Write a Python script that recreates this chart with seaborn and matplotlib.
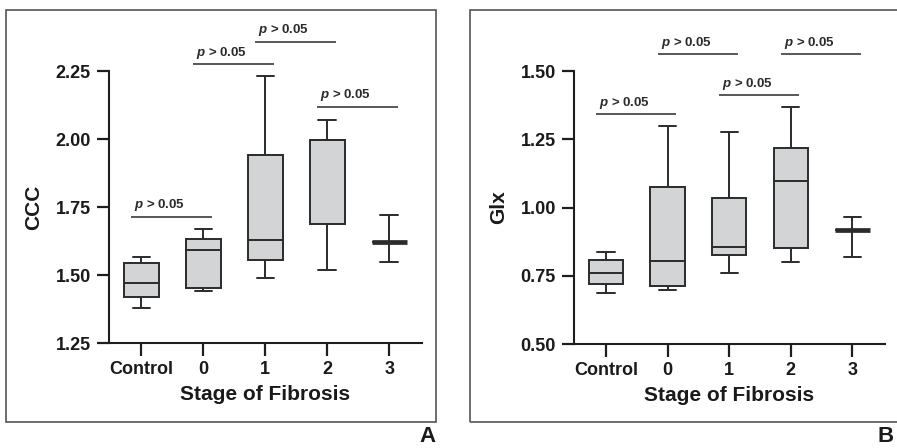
import numpy as np
import pandas as pd
import matplotlib
matplotlib.use("Agg")
import matplotlib.pyplot as plt
import seaborn as sns
from matplotlib.patches import Rectangle

# ---------------- data ----------------
stages = ["Control", "0", "1", "2", "3"]

ccc_low = [1.380, 1.440, 1.490, 1.518, 1.549]
ccc_q1 = [1.418, 1.451, 1.555, 1.686, 1.620]
ccc_median = [1.469, 1.591, 1.627, 1.998, 1.620]
ccc_q3 = [1.545, 1.634, 1.942, 1.998, 1.620]
ccc_high = [1.568, 1.670, 2.230, 2.069, 1.719]

glx_low = [0.688, 0.699, 0.760, 0.800, 0.820]
glx_q1 = [0.719, 0.712, 0.825, 0.853, 0.918]
glx_median = [0.759, 0.803, 0.854, 1.097, 0.918]
glx_q3 = [0.806, 1.074, 1.036, 1.219, 0.918]
glx_high = [0.838, 1.299, 1.278, 1.368, 0.966]

ccc_yticks = [1.25, 1.50, 1.75, 2.00, 2.25]
glx_yticks = [0.50, 0.75, 1.00, 1.25, 1.50]

p_text = r"$p$ > 0.05"
pairs = [("Control", "0"), ("0", "1"), ("1", "2"), ("2", "3")]
ccc_p_levels = [1.714, 2.274, 2.357, 2.118]
glx_p_levels = [1.342, 1.561, 1.412, 1.561]

# ---------------- style ----------------
sns.set_theme(style="ticks")
plt.rcParams["font.family"] = ["Liberation Sans", "DejaVu Sans"]
plt.rcParams["font.weight"] = "bold"
plt.rcParams["axes.labelweight"] = "bold"
plt.rcParams["mathtext.fontset"] = "custom"
plt.rcParams["mathtext.it"] = "Liberation Sans:italic:bold"
plt.rcParams["mathtext.rm"] = "Liberation Sans:bold"

FILL = "#d3d4d6"
LINE = "#2b2b2b"
AXC = "#1e1e1e"

fig = plt.figure(figsize=(8.97, 4.48), dpi=100)
W, H = 897.0, 448.0

ax_left = fig.add_axes([109 / W, 1 - 343 / H, 313 / W, 272 / H])
ax_right = fig.add_axes([574 / W, 1 - 344 / H, 311 / W, 273 / H])


def panel(ax, low, q1, med, q3, high, yticks, ylabel, levels):
    values = np.column_stack([low, q1, med, q3, high]).ravel()
    df = pd.DataFrame({"stage": np.repeat(stages, 5), "value": values})
    sns.boxplot(data=df, x="stage", y="value", order=stages, ax=ax,
                color=FILL, saturation=1, linecolor=LINE, linewidth=1.4,
                width=0.56, whis=(0, 100), showfliers=False)
    cont = ax.containers[-1]
    try:
        cont.medians[-1].set_linewidth(3.4)
    except Exception:
        pass
    ax.set_ylim(yticks[0], yticks[-1])
    ax.set_xlim(-0.52, 4.53)
    ax.set_yticks(yticks)
    ax.set_yticklabels([f"{v:.2f}" for v in yticks])
    ax.set_xticks(range(len(stages)))
    ax.set_xticklabels(stages)
    for s in ["top", "right"]:
        ax.spines[s].set_visible(False)
    for s in ["left", "bottom"]:
        ax.spines[s].set_linewidth(1.5)
        ax.spines[s].set_color(AXC)
    ax.tick_params(length=9, width=1.6, color=AXC, labelsize=13, pad=4,
                   labelcolor="#1a1a1a")
    ax.set_xlabel("Stage of Fibrosis", fontsize=15, labelpad=5, color="#1a1a1a")
    ax.set_ylabel(ylabel, fontsize=15, labelpad=9, color="#1a1a1a")
    for (a, b), lev in zip(pairs, levels):
        x0 = stages.index(a) - 0.16
        x1 = stages.index(b) + 0.14
        ax.plot([x0, x1], [lev, lev], color="#4a4a4a", lw=1.3, clip_on=False,
                solid_capstyle="butt")
        ax.annotate(p_text, xy=(x0, lev), xytext=(2, 2.5), textcoords="offset points",
                    ha="left", va="bottom", fontsize=9.5, fontweight="bold",
                    color="#2a2a2a", annotation_clip=False)


panel(ax_left, ccc_low, ccc_q1, ccc_median, ccc_q3, ccc_high, ccc_yticks, "CCC", ccc_p_levels)
panel(ax_right, glx_low, glx_q1, glx_median, glx_q3, glx_high, glx_yticks, "Glx", glx_p_levels)

# panel frames
fig.patches.append(Rectangle((6 / W, 1 - 422 / H), 430 / W, 412 / H, transform=fig.transFigure,
                             fill=False, edgecolor="#555555", lw=1.2))
fig.patches.append(Rectangle((470 / W, 1 - 422 / H), 450 / W, 412 / H, transform=fig.transFigure,
                             fill=False, edgecolor="#555555", lw=1.2))

fig.text(427 / W, 1 - 447 / H, "A", ha="center", va="bottom", fontsize=16, fontweight="bold",
         color="#1a1a1a")
fig.text(894 / W, 1 - 447 / H, "B", ha="right", va="bottom", fontsize=16, fontweight="bold",
         color="#1a1a1a")

fig.savefig("out.png", dpi=100)
